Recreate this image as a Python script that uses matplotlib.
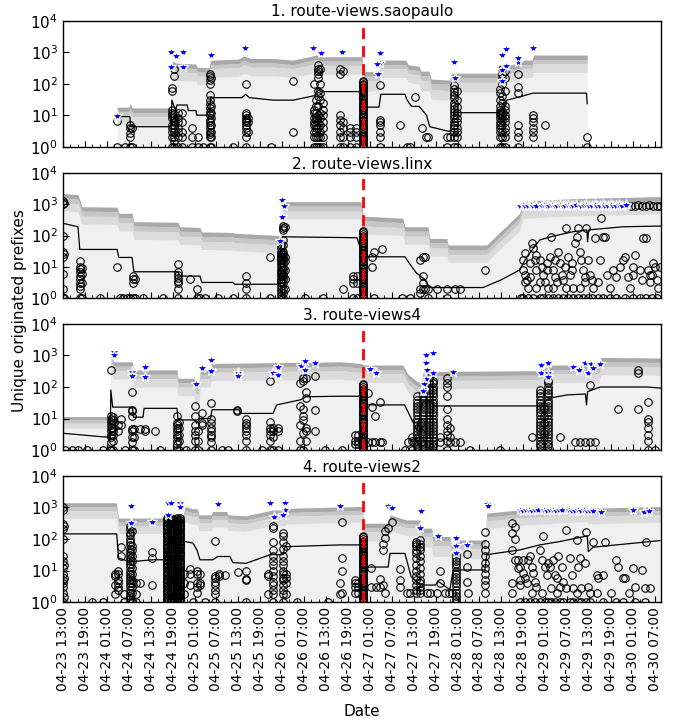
import datetime as dt
import numpy as np
import matplotlib
matplotlib.use("Agg")
import matplotlib.pyplot as plt
import matplotlib.dates as mdates
from matplotlib.ticker import LogLocator

# --- time axis (hours counted from 04-23 13:00) ---
START = dt.datetime(2016, 4, 23, 13, 0)
X_END_H = 163.7
EVENT_H = 82.1

titles = ["1. route-views.saopaulo", "2. route-views.linx",
          "3. route-views4", "4. route-views2"]

# log-spaced levels used for the solid-looking bursts of circles
dense_levels = [1, 1.12, 1.26, 1.41, 1.58, 1.78, 2, 2.24, 2.51, 2.82, 3.16, 3.55,
                3.98, 4.47, 5.01, 5.62, 6.31, 7.08, 7.94, 8.91, 10, 11.2, 12.6, 14.1,
                15.8, 17.8, 20, 22.4, 25.1, 28.2, 31.6, 35.5, 39.8, 44.7, 50.1, 56.2,
                63.1, 70.8, 79.4, 89.1, 100, 112, 126, 141, 158, 178, 200, 224, 251,
                282, 316, 355, 398, 447, 501]
# looser levels for busy (but not solid) columns
mid_levels = [1, 1.3, 1.6, 2, 2.5, 3.2, 4, 5, 6.3, 8, 10, 13, 16, 20, 25, 32, 40, 50,
              63, 80, 100, 130, 160, 200, 250, 320, 400, 500]

# ---------------- panel 1 : saopaulo ----------------
p1_band_h = [14.8, 18.0, 18.4, 19.0, 29.6, 29.9, 31.0, 36.4, 36.8, 40.0, 40.4, 48.0, 49.5,
             51.5, 57.5, 63.0, 69.4, 70.5, 81.8, 82.4, 86.5, 87.0, 93.8, 94.5, 97.5, 98.0,
             100.2, 100.8, 105.8, 106.3, 119.3, 120.0, 124.8, 125.2, 128.4, 128.8, 143.5]
p1_top = [18, 18, 23, 17, 17, 525, 450, 420, 330, 320, 560, 600, 760, 630, 630, 560, 810,
          720, 720, 240, 250, 560, 560, 400, 355, 250, 250, 140, 130, 215, 215, 390, 420,
          560, 560, 810, 810]
p1_q2 = [13, 13, 16.5, 12, 12, 380, 325, 300, 240, 230, 400, 430, 550, 455, 455, 400, 585,
         520, 520, 170, 180, 400, 400, 290, 255, 180, 180, 100, 95, 155, 155, 280, 300,
         400, 400, 585, 585]
p1_q3 = [9.5, 9.5, 12, 9, 9, 280, 240, 220, 175, 170, 300, 320, 400, 335, 335, 300, 430,
         380, 380, 120, 125, 300, 300, 210, 185, 125, 125, 65, 60, 110, 110, 205, 220,
         300, 300, 430, 430]
p1_q4 = [5, 5, 6.5, 4.8, 4.8, 150, 125, 118, 92, 90, 157, 168, 213, 176, 176, 157, 227,
         200, 200, 55, 60, 157, 157, 110, 95, 60, 60, 32, 30, 55, 55, 105, 118, 157, 157,
         227, 227]
p1_med_h = [14.8, 18.3, 18.5, 29.6, 29.8, 30.8, 31.2, 34.0, 34.3, 36.4, 36.6, 40.2, 40.4,
            49.0, 50.0, 51.0, 57.5, 63.0, 69.0, 69.8, 70.5, 81.8, 82.3, 86.5, 87.0, 93.6,
            94.2, 95.4, 97.5, 99.5, 100.4, 105.9, 107.2, 119.6, 121.5, 125.0, 128.6,
            143.3, 143.5]
p1_med = [9, 9, 4.3, 4.3, 30, 14, 21, 21, 14, 14, 10, 10, 36, 36, 46, 36, 30, 30, 42, 77,
          56, 56, 18, 18, 46, 46, 30, 19, 19, 10, 4.3, 3, 12, 12, 30, 38, 50, 50, 23]
p1_cols = [
    (14.8, [1, 6.5]), (17.0, [1]), (18.3, [1, 2, 2.7, 3.8, 5]), (18.9, [1, 4]),
    (29.8, [1, 2, 3, 4, 5, 8, 10, 12, 15, 60, 75]),
    (30.4, [1, 1.5, 2, 3, 4, 5, 6, 7, 9, 11, 170, 300]),
    (31.5, [1, 2, 3, 4, 6, 8, 12]), (32.6, [1, 2, 3, 6, 12]),
    (35.3, [1, 2, 4]), (36.9, [1, 2]), (38.3, [1]),
    (40.2, [1, 2, 2.5, 3, 4, 5, 6, 7, 10, 13, 17, 22, 30, 45, 100, 130, 170, 200]),
    (40.5, [1, 2, 3, 5, 8, 12, 20, 150]),
    (46.5, [1]), (50.1, [1, 2, 3, 4, 5, 6, 7, 8, 10, 12, 95]), (50.6, [3, 6, 8]),
    (56.9, [1]), (62.9, [3, 120]),
    (68.7, [1, 2, 3, 5, 6, 8, 12, 15, 100]),
    (69.2, [1, 2, 3, 4, 5, 7, 9, 12, 20, 30]),
    (69.8, [1, 2, 4, 6, 10, 20, 40, 60, 150, 200, 250, 300, 400]),
    (70.3, [1, 2, 3, 5, 8, 12, 30, 50, 100, 300]),
    (71.2, [1, 2, 4, 6, 10, 15, 25]),
    (75.8, [1, 2, 3, 5, 7, 10, 200, 300]), (76.6, [1, 2, 4, 6, 250]),
    (78.5, [1, 2, 3, 4]), (80.2, [1, 2, 3, 4]),
    (86.8, [1, 2, 3, 5, 6, 7, 90]), (92.2, [5]), (94.1, [1]), (95.0, [1]), (96.3, [37]),
    (98.2, [4]), (99.3, [2]), (99.9, [2]), (105.1, [1, 2]), (105.9, [2]),
    (107.0, [1, 2, 3, 4, 5, 6, 8, 10, 13, 16, 20, 25, 35, 45, 55, 70, 90]),
    (107.8, [1, 2, 3, 4, 6, 8, 12, 18, 30, 60]),
    (119.6, [1, 2, 3, 4, 5, 6, 8, 10, 12, 15, 20, 30, 50, 70]),
    (120.1, [1, 2, 3, 5, 7, 9, 11, 14, 25, 40, 100, 150, 200, 300]),
    (121.0, [1, 2, 3, 4, 6, 8, 10, 15, 20, 60, 150, 250]),
    (124.5, [1, 2, 3, 5, 50, 80, 200]), (128.6, [2, 3, 4, 6, 8, 10]),
    (131.9, [5]), (143.4, [1, 2]),
]
p1_dense = [(82.1, 135)]
p1_mid = []
p1_stars = [(14.9, 9.4), (29.7, 1040), (30.8, 760), (32.8, 1040), (29.7, 345), (32.8, 345),
            (40.5, 810), (49.8, 1330), (68.5, 1390), (70.5, 920), (76.3, 1000),
            (86.9, 960), (86.9, 460), (86.0, 420), (86.2, 200), (107.1, 480), (107.4, 150),
            (121.2, 1230), (120.1, 810), (121.2, 365), (120.1, 270), (120.1, 122),
            (124.6, 500), (124.6, 640), (128.7, 1380)]

# ---------------- panel 2 : linx ----------------
p2_band_h = [0.0, 4.1, 5.2, 14.8, 15.3, 18.9, 19.4, 31.5, 32.0, 37.5, 38.0, 46.5, 47.0,
             59.4, 59.9, 81.5, 82.3, 93.0, 93.6, 99.9, 100.4, 105.1, 105.4, 116.0, 119.0,
             122.0, 125.0, 125.9, 140.0, 163.7]
p2_top = [2190, 2000, 830, 800, 510, 510, 275, 265, 190, 180, 130, 125, 118, 100, 1200,
          1200, 415, 355, 190, 190, 81, 80, 50, 50, 110, 234, 510, 1260, 1500, 1740]
p2_q2 = [1580, 1440, 600, 575, 370, 370, 200, 190, 137, 130, 94, 90, 85, 72, 865, 865,
         300, 255, 137, 137, 58, 58, 36, 36, 79, 170, 370, 900, 1080, 1250]
p2_q3 = [1100, 1000, 415, 400, 255, 255, 138, 132, 95, 90, 65, 62, 59, 50, 600, 600, 200,
         178, 95, 95, 40, 40, 25, 25, 55, 117, 255, 630, 750, 870]
p2_q4 = [610, 560, 230, 225, 140, 140, 75, 72, 52, 50, 36, 34, 33, 27, 335, 335, 110, 100,
         52, 52, 22, 22, 14, 14, 31, 66, 140, 350, 420, 490]
p2_med_h = [0.0, 4.1, 4.6, 14.8, 15.3, 18.9, 19.4, 31.5, 32.0, 37.5, 38.0, 46.5, 47.0,
            59.4, 59.9, 80.5, 82.1, 93.6, 95.5, 96.8, 98.8, 100.4, 115.0, 120.0, 125.0,
            127.0, 130.5, 134.1, 139.6, 143.4, 143.6, 143.9, 153.3, 163.7]
p2_med = [245, 190, 36, 36, 20, 20, 7, 7, 5.1, 5.1, 3.2, 3.2, 2.8, 2.8, 91, 85, 21, 21,
          10, 6.3, 4.2, 2.2, 2.2, 3.9, 8, 21, 72, 95, 132, 151, 63, 151, 190, 200]
p2_cols = [
    (0.0, [1, 2, 6, 20, 30, 100, 1000, 1300]), (0.3, [1, 25, 1100]),
    (4.7, [1, 2, 2.5, 3, 4, 5, 7, 8.5, 10, 15]), (5.2, [1, 3, 6, 9]),
    (10.1, [1]), (14.8, [10]), (15.6, [1]), (16.4, [1]), (17.4, [1]), (18.3, [1]),
    (19.2, [1, 3, 4, 5]), (19.7, [1, 4]), (21.9, [1]), (27.4, [1]),
    (31.5, [1, 2, 3, 3.5, 4.5, 5.5, 7, 12]), (34.8, [4]), (36.7, [1, 2]),
    (37.5, [1]), (38.9, [1]), (42.4, [1]), (46.5, [1]), (50.1, [1, 2, 3, 5]),
    (56.6, [1, 20]),
    (59.7, [1, 1.3, 1.6, 2, 2.5, 3, 3.5, 4, 5, 6, 7, 8, 10, 12, 14, 16, 18, 20, 23, 26,
            30, 40, 50]),
    (60.2, [1, 1.5, 2, 3, 4, 5, 6, 8, 10, 13, 16, 20, 25, 30, 50, 70, 150, 170, 200]),
    (60.8, [2, 4, 8, 15, 20, 180]),
    (66.2, [1]), (71.2, [1]), (76.6, [2]), (79.4, [1, 3, 4, 5]), (80.5, [1, 3, 5]),
    (84.6, [10, 21]), (85.1, [1, 30]), (87.3, [36]), (92.8, [1]), (95.0, [1]),
    (97.7, [1.5, 2, 17]), (98.5, [2, 3, 5, 20]), (99.1, [2, 20]), (99.9, [1, 2]),
    (102.4, [2]), (105.1, [1, 2]), (107.3, [2]), (108.6, [2]), (115.5, [8]),
    (125.5, [1]), (126.0, [1, 8, 17]), (126.4, [27, 5.5, 3.4]), (126.9, [3.8]),
    (127.3, [2.1, 1]), (127.8, [13, 4.9]), (128.3, [56]), (128.7, [39, 1]), (129.2, [17]),
    (129.6, [8, 2.1, 24]), (130.5, [17, 1, 3.4]), (131.0, [10]), (131.4, [5.5, 1]),
    (131.9, [3.4]), (132.4, [8, 13]), (132.8, [2.1, 1]), (133.3, [21]), (133.7, [91]),
    (134.2, [8, 2.1, 1]), (134.6, [17, 4.9]), (135.1, [3.4]), (135.6, [30, 1]),
    (136.0, [13]), (136.5, [5.5]), (136.9, [3.8, 1]), (137.3, [10]), (137.8, [170, 2.1]),
    (138.3, [21, 1]), (138.8, [5.5]), (139.2, [13, 8]), (139.7, [2.1, 1]),
    (140.1, [56]), (140.6, [91]), (141.0, [170, 1]), (141.5, [30, 2.1]), (141.9, [17]),
    (142.4, [8, 1]), (142.9, [4.9, 3.4]), (143.3, [170]), (143.8, [17, 1]),
    (144.2, [5.5]), (144.7, [3.8, 1]), (145.1, [2.1]), (145.6, [81]), (146.5, [3.4, 1]),
    (147.0, [17]), (147.4, [355]), (147.8, [91, 1]), (148.3, [91]), (148.8, [5.5]),
    (149.7, [2.1, 1]), (150.6, [8]), (151.5, [4.9, 1]), (152.4, [10]), (153.3, [17]),
    (153.8, [21, 1]), (154.7, [4.9]), (155.2, [2.1]), (156.1, [10, 5.5, 1]),
    (156.5, [24]), (157.9, [8, 1]), (158.4, [3.8]), (158.8, [81]), (159.7, [81, 1]),
    (160.2, [8]), (160.6, [5.5, 3.4]), (161.1, [5.5, 1]), (161.5, [13]), (162.0, [10]),
    (162.5, [3.8, 1]), (162.9, [2.1]), (163.4, [10]),
    (155.5, [900]), (156.5, [900]), (157.5, [920]), (158.5, [900]), (159.5, [900]),
    (160.5, [920]), (161.5, [900]), (162.5, [900]), (163.4, [900]),
]
p2_dense = [(82.1, 150)]
p2_mid = []
p2_stars = [(59.9, 1350), (60.5, 850), (60.0, 380), (59.4, 66),
            (125.1, 880), (125.8, 920), (126.5, 860), (127.2, 900), (128.0, 940),
            (128.7, 880), (129.5, 900), (131.0, 870), (131.7, 930), (132.4, 880),
            (133.1, 900), (133.8, 940), (134.6, 870), (135.3, 900), (136.0, 920),
            (136.8, 880), (137.5, 900), (138.2, 940), (139.0, 870), (139.7, 900),
            (140.5, 920), (141.9, 880), (142.6, 900), (143.3, 930), (144.0, 870),
            (144.8, 900), (145.5, 920), (146.2, 880), (146.9, 900), (147.7, 940),
            (148.4, 870), (149.1, 900), (149.9, 920), (150.6, 880), (151.3, 900),
            (152.1, 930), (153.0, 900), (154.2, 910)]

# ---------------- panel 3 : route-views4 ----------------
p3_band_h = [0.0, 12.9, 13.1, 13.8, 19.0, 19.3, 31.2, 31.5, 35.8, 36.3, 37.2, 37.6, 40.2,
             40.6, 76.0, 81.5, 82.3, 93.0, 94.5, 96.9, 98.2, 98.6, 130.0, 134.1, 146.7,
             147.2, 163.7]
p3_top = [11.5, 11.5, 1320, 630, 630, 350, 350, 190, 190, 130, 130, 350, 350, 560, 630,
          560, 500, 500, 250, 150, 150, 310, 330, 500, 500, 870, 830]
p3_q2 = [9.2, 9.2, 950, 455, 455, 252, 252, 137, 137, 90, 90, 252, 252, 400, 455, 400,
         360, 360, 180, 105, 105, 223, 238, 360, 360, 625, 600]
p3_q3 = [7.1, 7.1, 690, 330, 330, 182, 182, 99, 99, 60, 60, 182, 182, 290, 330, 290, 260,
         260, 125, 70, 70, 160, 170, 260, 260, 450, 430]
p3_q4 = [4.9, 4.9, 370, 176, 176, 98, 98, 53, 53, 30, 30, 98, 98, 157, 176, 157, 140, 140,
         65, 38, 38, 87, 92, 140, 140, 245, 232]
p3_med_h = [0.0, 12.9, 13.1, 13.6, 19.0, 19.3, 21.9, 22.2, 31.2, 31.5, 36.2, 36.6, 37.4,
            40.4, 40.8, 48.2, 48.5, 57.5, 58.5, 64.9, 66.6, 75.8, 81.3, 82.1, 93.5, 95.0,
            96.9, 98.5, 101.0, 101.5, 130.5, 133.0, 138.0, 143.0, 143.3, 143.6, 147.0,
            160.0, 163.7]
p3_med = [3.4, 2.5, 80, 23, 23, 11, 11, 21, 21, 9, 9, 7, 10, 10, 19, 19, 14.5, 14.5, 27,
          39, 49, 51, 51, 27, 27, 12, 4.3, 34, 34, 25, 25, 44, 56, 60, 27, 71, 100, 100, 92]
p3_cols = [
    (0.5, [1]), (2.5, [1]), (4.1, [1]), (6.6, [1]), (11.0, [1]), (12.9, [1]),
    (13.1, [1, 1.8, 2.5, 3, 4, 5, 6, 8, 10, 12, 350]),
    (13.7, [1, 2, 3, 4, 5, 7, 9, 11]), (15.1, [4, 6]), (15.9, [6, 10]), (17.0, [1]),
    (18.9, [1, 1.8, 2.5, 4, 4.5, 12, 17, 19, 70]), (19.4, [1, 2.5, 4.5]),
    (21.1, [4.5]), (22.4, [4, 4.5]), (25.2, [4]), (26.5, [1]),
    (31.2, [1, 1.5, 2, 2.5, 3, 4, 5, 6, 7, 12]), (31.7, [1, 2, 3, 5, 8]), (33.7, [1]),
    (36.1, [1, 2, 3, 4, 6, 12, 25]), (36.9, [1, 2, 4]), (38.0, [6, 7, 15]),
    (40.5, [1, 1.8, 2.5, 3, 4, 5, 7, 10, 30]), (43.5, [1]), (45.2, [1]),
    (47.6, [17, 18]), (50.1, [1, 2, 3, 4, 5, 6, 7, 10]), (54.5, [1]),
    (56.7, [1, 2, 3, 4, 5, 8, 150]), (57.5, [1, 2.5, 4, 5]), (58.8, [1, 4, 5]),
    (64.9, [1, 2, 6, 25, 130]), (65.7, [1, 3.5, 9, 12, 20, 150, 200]),
    (66.5, [2, 4, 5, 45, 70, 200]), (69.0, [4, 18, 220]), (71.7, [1]), (76.4, [1]),
    (79.9, [1.5, 2, 3]), (80.7, [1.5, 2, 3]), (83.5, [1.8, 63]), (84.6, [1.8, 23]),
    (85.4, [1.8, 12]), (86.8, [1.8, 34]), (87.3, [1.8]), (93.6, [1]),
    (94.5, [1.8]), (95.5, [1, 2, 2.5]), (96.0, [1.8]), (103.2, [1.8, 2.5]),
    (105.1, [1, 2, 3, 4, 6, 10, 20, 50, 100, 130, 200]), (105.9, [1.8, 2.5, 5]),
    (107.3, [1.8]), (108.6, [1.8]), (111.4, [1]), (119.6, [1]), (128.4, [2.5]),
    (136.0, [2.5]), (140.1, [1.8]), (141.5, [1.8]), (142.9, [1.8]), (144.2, [1.8, 115]),
    (145.6, [1.8]), (151.9, [20]), (157.4, [20, 270, 350]),
    (160.1, [1, 2, 3, 5, 8, 10, 34]), (162.0, [1]),
    (131.6, [2.5, 3.5, 7, 12, 22]), (98.0, [1.8, 3.5, 7]),
]
p3_dense = [(82.1, 140)]
p3_mid = [(97.0, 50), (98.5, 63), (100.3, 200), (101.2, 160), (130.5, 80), (132.8, 160)]
p3_stars = [(14.0, 1320), (14.0, 1000), (19.0, 295), (19.0, 225), (22.4, 445), (22.4, 204),
            (36.3, 121), (38.1, 390), (40.5, 720), (40.5, 330), (47.8, 270), (47.8, 225),
            (57.6, 270), (58.9, 445), (58.9, 240), (65.1, 465), (66.2, 665), (66.2, 350),
            (69.0, 560), (84.0, 365), (85.7, 270), (99.3, 1040), (101.2, 1170),
            (99.3, 590), (99.6, 350), (101.2, 285), (99.3, 175), (98.9, 125), (98.5, 76),
            (106.8, 307), (130.8, 500), (132.8, 590), (130.8, 270), (132.8, 280),
            (132.8, 205), (139.7, 445), (141.3, 350), (142.9, 560), (144.4, 550),
            (143.8, 270), (145.1, 390), (147.0, 550)]

# ---------------- panel 4 : route-views2 ----------------
p4_band_h = [0.0, 14.6, 15.2, 28.0, 28.3, 33.0, 33.4, 35.5, 36.8, 37.2, 40.6, 40.9, 44.8,
             45.2, 50.0, 57.5, 61.0, 61.3, 82.0, 82.3, 89.0, 89.5, 94.0, 97.7, 98.1, 100.9,
             101.3, 105.9, 106.4, 107.3, 107.7, 115.5, 116.0, 125.0, 143.5, 143.8, 163.7]
p4_top = [1400, 1400, 460, 460, 580, 600, 1070, 900, 900, 580, 580, 740, 740, 580, 540,
          830, 830, 930, 1070, 316, 316, 575, 400, 400, 220, 220, 120, 120, 65, 65, 93, 93,
          660, 830, 1120, 930, 1070]
p4_q2 = [1040, 1040, 340, 340, 430, 445, 790, 665, 665, 430, 430, 550, 550, 430, 400, 615,
         615, 690, 790, 230, 230, 425, 296, 296, 160, 160, 88, 88, 48, 48, 69, 69, 490,
         615, 830, 690, 790]
p4_q3 = [780, 780, 258, 258, 325, 335, 600, 505, 505, 325, 325, 415, 415, 325, 300, 465,
         465, 520, 600, 170, 170, 320, 224, 224, 115, 115, 62, 62, 34, 34, 50, 50, 370,
         465, 630, 520, 600]
p4_q4 = [450, 450, 147, 147, 185, 192, 340, 290, 290, 185, 185, 237, 237, 185, 173, 265,
         265, 298, 340, 85, 85, 184, 128, 128, 55, 55, 28, 28, 15, 15, 24, 24, 210, 265,
         360, 298, 340]
p4_med_h = [0.0, 14.7, 15.2, 18.3, 24.4, 28.0, 29.5, 33.4, 35.6, 36.7, 37.5, 41.0, 42.4,
            45.7, 46.5, 50.1, 56.7, 60.2, 60.8, 75.8, 81.8, 82.1, 89.0, 89.5, 93.6, 94.8,
            95.3, 97.7, 101.9, 102.8, 105.9, 106.8, 115.5, 116.0, 125.0, 130.5, 136.0,
            143.5, 143.8, 145.1, 163.4]
p4_med = [145, 145, 25, 19, 22, 22, 93, 83, 74, 44, 22, 22, 28, 28, 18, 17, 32, 32, 57,
          65, 65, 13, 13, 35, 35, 10.5, 6.5, 3.5, 3.5, 4.5, 2.5, 10.5, 10.5, 32, 45, 65,
          83, 125, 40, 55, 89]
p4_cols = [
    (0.0, [1, 2, 3, 4, 5, 8, 12, 20, 30, 100, 200, 300, 800, 1000]),
    (0.3, [1.5, 6, 15, 250]), (8.0, [1]), (11.0, [1]),
    (14.2, [1.8, 3.5, 7, 8]), (15.1, [2.5, 3, 4, 5, 8, 10]), (15.9, [28, 57]),
    (16.7, [1, 1.8]), (18.9, [1, 2, 3, 4, 5, 8, 12, 20, 30, 45, 60, 180]),
    (20.0, [1, 1.8, 4]), (21.1, [4]), (24.4, [3.5, 25, 40]),
    (33.1, [1.8, 4, 8]), (34.8, [3.5, 8, 11]), (35.6, [1]), (36.7, [2, 3, 4, 8, 10]),
    (37.5, [3.5, 4, 8]), (38.9, [1]), (41.6, [1, 1.8, 2.5, 3.5, 4.5, 6, 7, 85]),
    (42.7, [7, 8]), (44.3, [7.5]), (47.9, [9]), (50.1, [1, 5, 5.5, 10]),
    (56.1, [1.8, 7, 8]),
    (57.5, [1, 1.8, 2.5, 3.5, 4.5, 7, 10, 15, 20, 30, 45, 80, 230, 250]),
    (60.2, [1, 1.8, 2.5, 3.5, 5, 6, 8, 10, 15, 20, 30, 50, 80, 120, 150]),
    (61.0, [1.8, 4, 6, 8, 60]), (64.0, [1]), (72.5, [1]), (75.8, [1.8, 4]),
    (76.3, [1.9, 10, 25, 355]), (80.0, [1.9, 3, 4, 5]), (80.7, [1.9, 3, 4]),
    (84.3, [3, 12]), (85.6, [3]), (86.8, [3, 5.5]), (87.6, [3.5, 45, 70]),
    (88.2, [1.9, 105, 180]), (89.0, [220]), (90.0, [355]), (92.2, [3, 5, 11]),
    (94.1, [1.9]), (95.0, [1.9]),
    (96.6, [1.9, 2.5, 3.5, 5, 7, 10, 15, 25, 35, 45, 60, 70, 80]),
    (97.7, [1.9, 2.5, 3, 4, 5, 8, 12, 20, 30, 45, 55, 70, 90]),
    (99.6, [1.9]), (100.5, [1.9]), (102.4, [1.9]), (103.2, [4, 10]),
    (104.7, [1.9]), (105.6, [1.9]), (106.5, [1.9]), (110.5, [4.5, 13, 33]), (111.0, [1.9]),
    (115.5, [1.9, 3.5, 5, 8, 12, 18, 28, 45, 70, 170]),
    (123.0, [1.9, 4, 45, 150, 316]), (123.7, [22, 100, 245]), (124.6, [22, 12]),
    (125.1, [13.4, 5, 3.5, 1]), (126.0, [22, 8.3]), (126.4, [5.8, 1]), (126.9, [4.0]),
    (127.3, [22]), (127.8, [28, 1]), (128.3, [13.4, 1.9]), (128.7, [8.3]),
    (129.2, [4.5, 1]), (129.6, [3.1]), (130.5, [45, 1]), (131.0, [22, 1.9]),
    (131.4, [120]), (131.9, [13.4, 1]), (132.4, [7.3]), (132.8, [17, 1]),
    (133.3, [13.4]), (133.7, [2.8, 1]), (134.2, [22]), (134.6, [7.3, 1]),
    (135.1, [5.8, 1.9]), (135.6, [28]), (136.0, [3.1, 1]), (136.5, [13.4]),
    (136.9, [4.5, 1]), (137.8, [195, 2.8]), (138.8, [25, 1]), (139.2, [7.3]),
    (139.7, [2.8, 1]), (140.6, [93, 1.9]), (141.0, [13.4, 1]), (141.5, [25]),
    (141.9, [2.8, 1]), (142.9, [17]), (143.3, [170, 1]), (143.8, [3.1]),
    (144.2, [1.9, 1]), (145.1, [83]), (146.1, [7.3, 1.9]), (146.5, [5.8]),
    (147.9, [7.3, 1]), (148.3, [83]), (150.0, [1.9]), (151.5, [22, 1]), (152.0, [13.4]),
    (153.3, [5.8, 1]), (153.8, [5.8]), (155.0, [1.9]), (156.1, [12]), (156.5, [3.1, 1]),
    (158.4, [10.5]), (159.3, [2.8, 1]), (159.7, [83]), (160.6, [2.8]),
]
p4_dense = [(28.6, 450), (29.6, 500), (31.2, 500), (32.0, 450), (82.1, 134)]
p4_mid = [(18.3, 250), (30.4, 400), (107.7, 32)]
p4_stars = [(18.6, 1140), (18.6, 316), (24.5, 340), (28.8, 575), (28.8, 1350),
            (29.7, 1350), (32.0, 1350), (32.0, 1000), (42.3, 1290), (56.6, 1410),
            (57.8, 490), (60.8, 1350), (60.8, 800), (60.3, 575), (75.8, 1070),
            (89.0, 1070), (90.0, 930), (98.0, 740), (97.7, 230), (102.7, 120),
            (107.7, 105), (107.7, 60), (107.7, 37), (110.5, 65), (116.0, 1290),
            (116.4, 1120),
            (125.1, 800), (125.9, 780), (126.7, 800), (127.5, 800), (128.3, 780),
            (129.1, 800), (129.9, 820), (131.8, 800), (132.6, 780), (133.4, 800),
            (134.2, 800), (135.0, 780), (135.8, 800), (136.6, 820), (138.6, 800),
            (139.4, 780), (140.2, 740), (141.0, 800), (141.8, 760), (142.6, 800),
            (143.4, 780), (144.2, 740), (145.0, 780), (147.2, 690), (156.1, 830),
            (159.1, 710), (160.4, 780)]

panels = [
    (p1_band_h, p1_top, p1_q2, p1_q3, p1_q4, p1_med_h, p1_med, p1_cols, p1_dense, p1_mid, p1_stars),
    (p2_band_h, p2_top, p2_q2, p2_q3, p2_q4, p2_med_h, p2_med, p2_cols, p2_dense, p2_mid, p2_stars),
    (p3_band_h, p3_top, p3_q2, p3_q3, p3_q4, p3_med_h, p3_med, p3_cols, p3_dense, p3_mid, p3_stars),
    (p4_band_h, p4_top, p4_q2, p4_q3, p4_q4, p4_med_h, p4_med, p4_cols, p4_dense, p4_mid, p4_stars),
]

T0 = mdates.date2num(START)


def xh(hours):
    # hours since START -> matplotlib date number
    return T0 + np.asarray(hours, dtype=float) / 24.0


fig = plt.figure(figsize=(6.84, 7.2), dpi=100)
ax_left, ax_width = 0.0921, 0.8743
ax_rows = [(0.7963, 0.1750), (0.5857, 0.1744), (0.3750, 0.1750), (0.1635, 0.1758)]

for i, (band_h, top, q2, q3, q4, med_h, med, cols, dense, mid, stars) in enumerate(panels):
    ax = fig.add_axes([ax_left, ax_rows[i][0], ax_width, ax_rows[i][1]])
    bx = xh(band_h)
    ax.fill_between(bx, 1, q4, color="#f0f0f0", lw=0, zorder=1)
    ax.fill_between(bx, q4, q3, color="#dbdbdb", lw=0, zorder=1)
    ax.fill_between(bx, q3, q2, color="#c6c6c6", lw=0, zorder=1)
    ax.fill_between(bx, q2, top, color="#a9a9a9", lw=0, zorder=1)
    ax.plot(xh(med_h), med, color="black", lw=0.9, zorder=2)

    px, py = [], []
    for h, vals in cols:
        px += [h] * len(vals)
        py += list(vals)
    for levels, spec in ((dense_levels, dense), (mid_levels, mid)):
        for h, vmax in spec:
            sel = [v for v in levels if v <= vmax]
            px += [h] * len(sel)
            py += sel
    ax.plot(xh(px), py, "o", mfc="none", mec="black", ms=5.4, mew=0.8, zorder=3)

    sh = [s[0] for s in stars]
    sv = [s[1] for s in stars]
    ax.plot(xh(sh), sv, "*", color="blue", mec="white", mew=0.9, ms=8, zorder=4)

    ax.axvline(xh(EVENT_H), color="red", ls="--", lw=2, dashes=(4, 2.5), zorder=5)

    ax.set_yscale("log")
    ax.set_ylim(1, 1e4)
    ax.set_xlim(xh(0), xh(X_END_H))
    ax.yaxis.set_major_locator(LogLocator(base=10, numticks=6))
    ax.xaxis_date()
    ax.xaxis.set_major_locator(mdates.HourLocator(byhour=[1, 7, 13, 19]))
    ax.xaxis.set_minor_locator(mdates.HourLocator(byhour=range(1, 24, 2)))
    ax.xaxis.set_major_formatter(mdates.DateFormatter("%m-%d %H:%M"))
    ax.tick_params(which="both", direction="in", top=False, right=False)
    ax.tick_params(which="major", length=4, labelsize=11)
    ax.tick_params(which="minor", length=2)
    for sp in ax.spines.values():
        sp.set_linewidth(1.0)
    ax.set_title(titles[i], fontsize=11, pad=3)
    if i < 3:
        ax.tick_params(axis="x", labelbottom=False)
    else:
        plt.setp(ax.get_xticklabels(), rotation=90, fontsize=10)

fig.text(0.029, 0.568, "Unique originated prefixes", rotation=90,
         ha="center", va="center", fontsize=11)
fig.text(0.529, 0.012, "Date", ha="center", va="center", fontsize=11)

fig.savefig("out.png", dpi=100)
